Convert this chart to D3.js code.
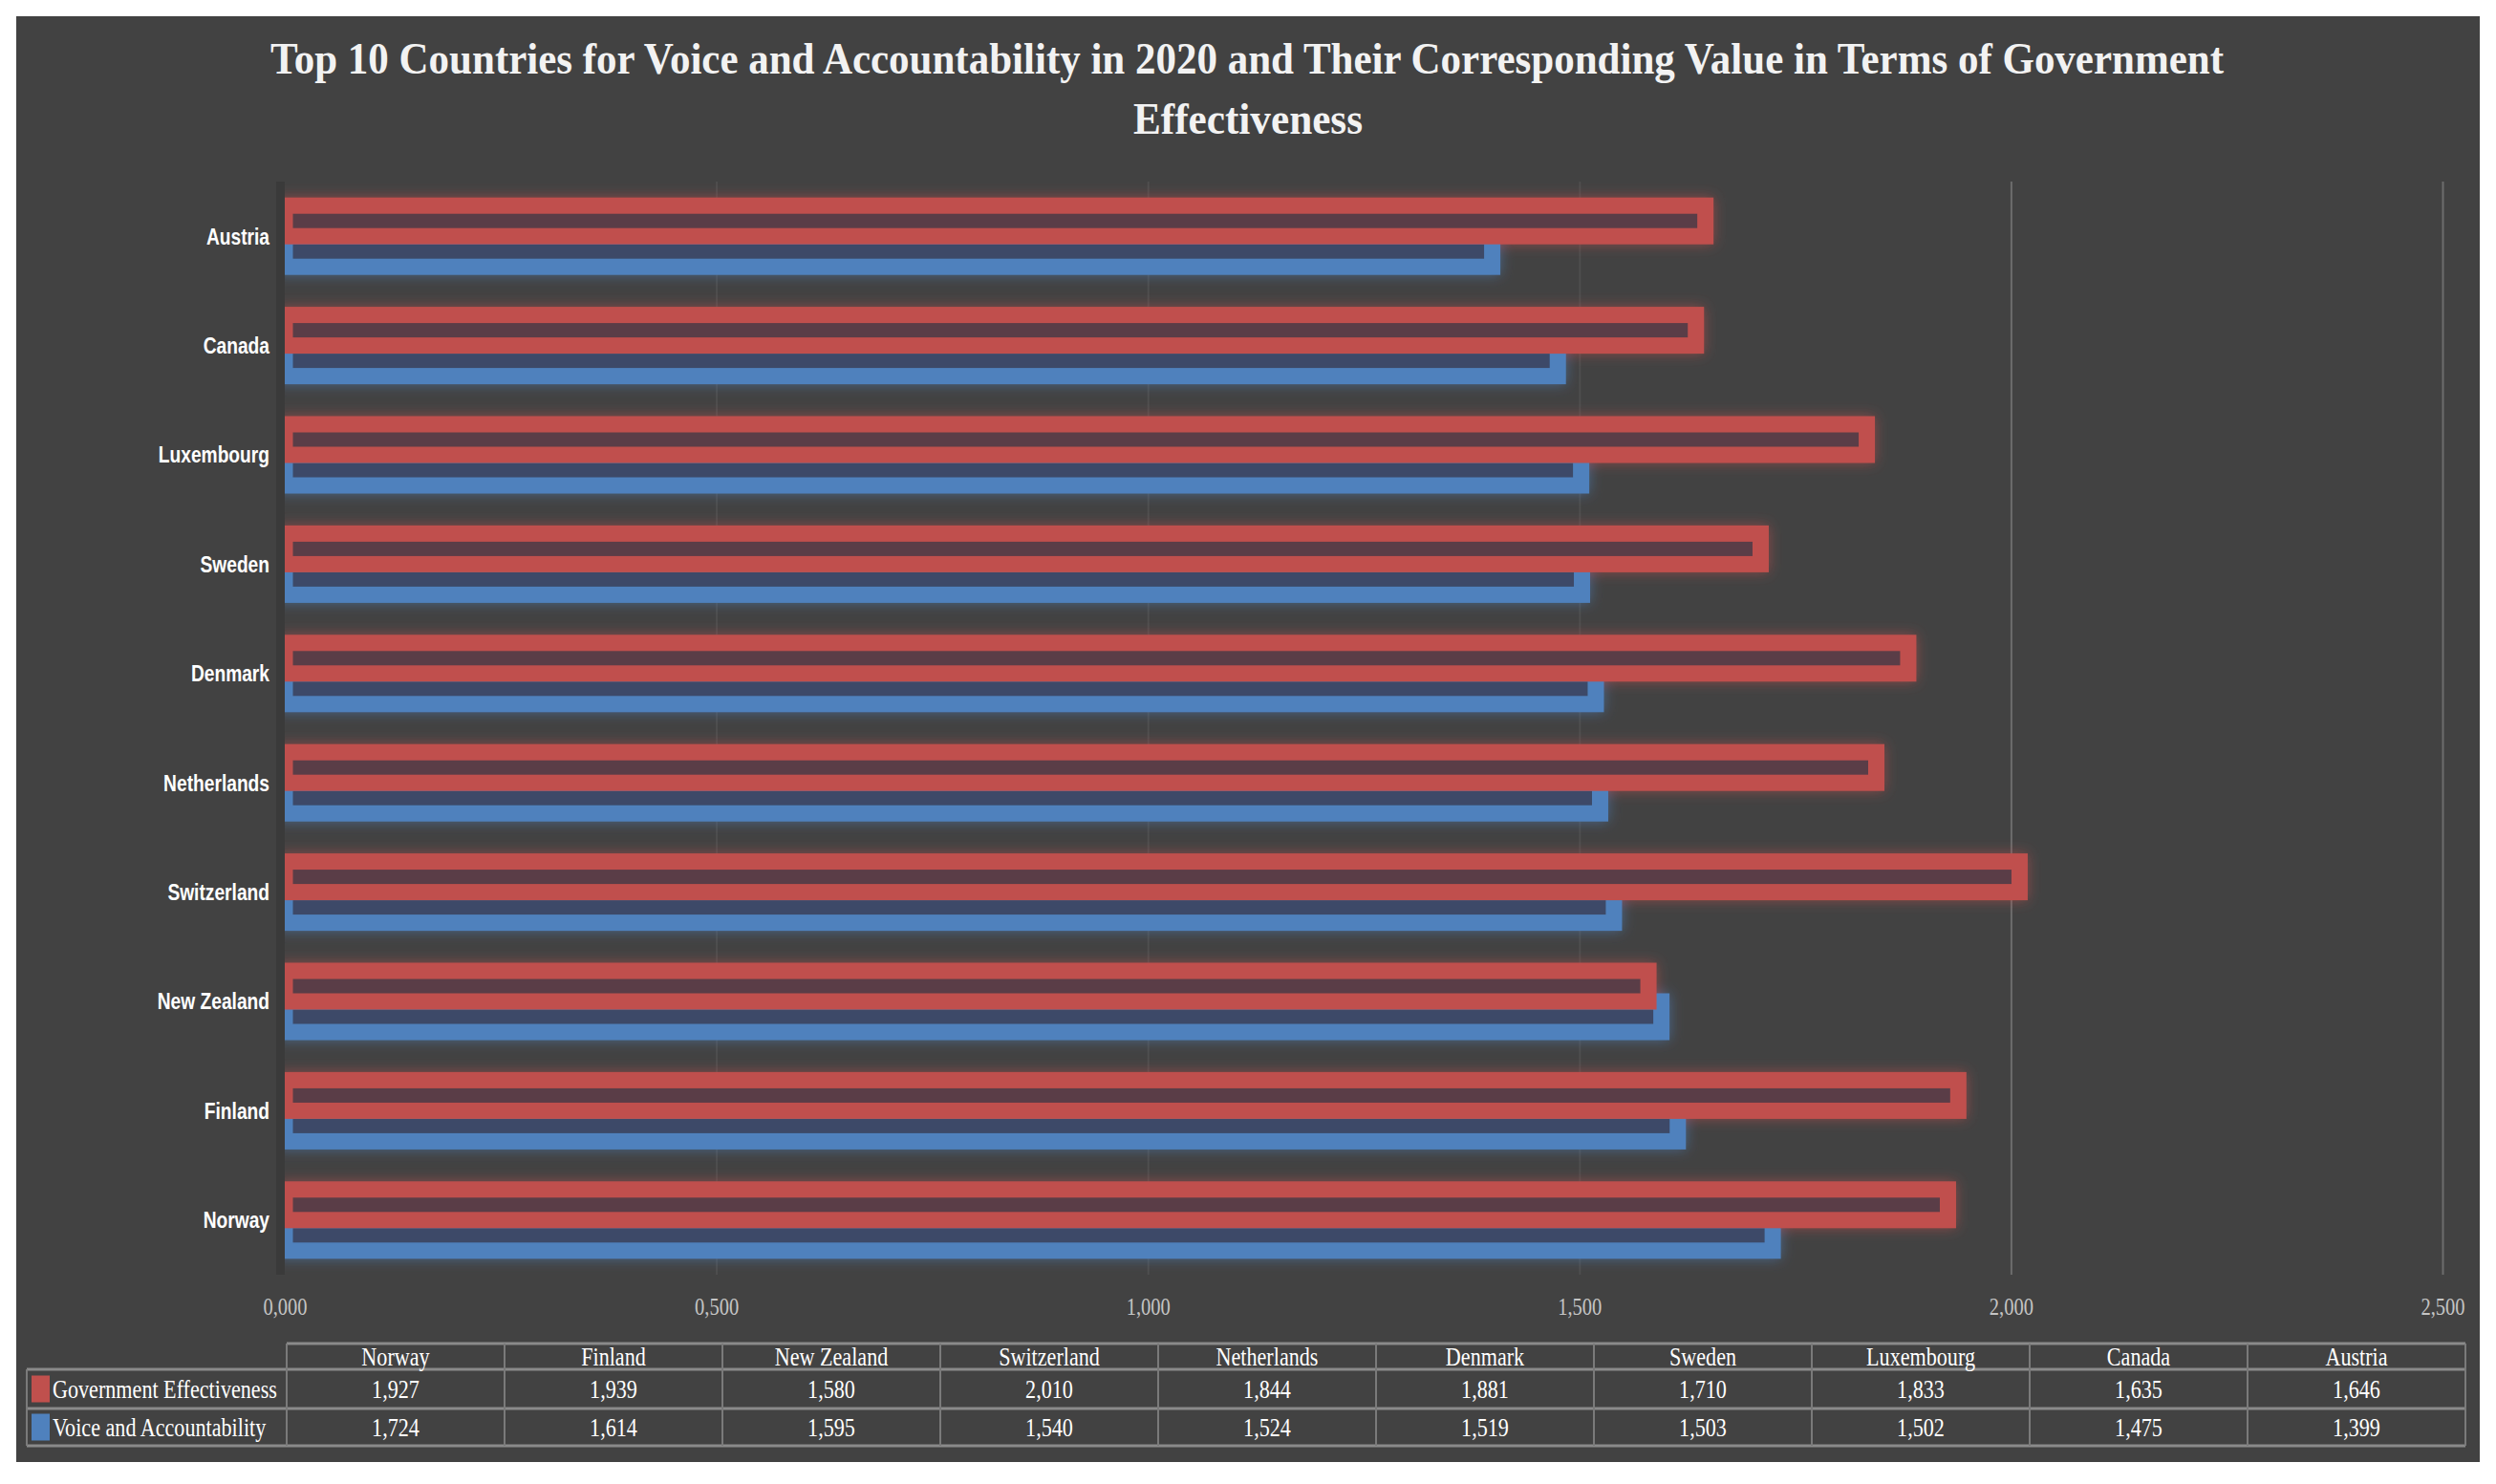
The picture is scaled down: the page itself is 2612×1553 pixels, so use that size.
<!DOCTYPE html>
<html>
<head>
<meta charset="utf-8">
<script src="https://cdn.jsdelivr.net/npm/d3@7"></script>
<style>
  html, body { margin: 0; padding: 0; background: #ffffff; }
  svg { display: block; }
</style>
</head>
<body>
<script>
// ---------- DATA ----------
const countries = ["Norway", "Finland", "New Zealand", "Switzerland", "Netherlands",
                   "Denmark", "Sweden", "Luxembourg", "Canada", "Austria"];
const govEffectiveness    = [1.927, 1.939, 1.580, 2.010, 1.844, 1.881, 1.710, 1.833, 1.635, 1.646];
const voiceAccountability = [1.724, 1.614, 1.595, 1.540, 1.524, 1.519, 1.503, 1.502, 1.475, 1.399];
const seriesNames = ["Government Effectiveness", "Voice and Accountability"];
const xTicks = [0, 0.5, 1, 1.5, 2, 2.5];
const titleLines = ["Top 10 Countries for Voice and Accountability in 2020 and Their Corresponding Value in Terms of Government",
                    "Effectiveness"];

// ---------- SETUP ----------
const W = 2612, H = 1553;
const svg = d3.select("body").append("svg").attr("width", W).attr("height", H);
const defs = svg.append("defs");

const f = defs.append("filter").attr("id", "glow")
  .attr("x", "-5%").attr("y", "-80%").attr("width", "110%").attr("height", "260%");
f.append("feGaussianBlur").attr("in", "SourceGraphic").attr("stdDeviation", 7).attr("result", "b");
f.append("feComponentTransfer").attr("in", "b").attr("result", "b2")
  .append("feFuncA").attr("type", "linear").attr("slope", 0.6);
const fm = f.append("feMerge");
fm.append("feMergeNode").attr("in", "b2");
fm.append("feMergeNode").attr("in", "SourceGraphic");

defs.append("clipPath").attr("id", "plotClip")
  .append("rect").attr("x", 298).attr("y", 150).attr("width", 2300).attr("height", 1220);

// background panel
svg.append("rect").attr("x", 17).attr("y", 17).attr("width", 2578).attr("height", 1513)
  .attr("fill", "#424242");

// ---------- TITLE ----------
const serif = "'Liberation Serif', 'Times New Roman', serif";
svg.append("text").attr("x", 1305).attr("y", 77)
  .attr("text-anchor", "middle").attr("font-family", serif).attr("font-weight", "bold")
  .attr("font-size", 46).attr("fill", "#f2f2f2")
  .attr("textLength", 2044).attr("lengthAdjust", "spacingAndGlyphs")
  .text(titleLines[0]);
svg.append("text").attr("x", 1306).attr("y", 140)
  .attr("text-anchor", "middle").attr("font-family", serif).attr("font-weight", "bold")
  .attr("font-size", 46).attr("fill", "#f2f2f2")
  .attr("textLength", 240).attr("lengthAdjust", "spacingAndGlyphs")
  .text(titleLines[1]);

// ---------- SCALES ----------
const x = d3.scaleLinear().domain([0, 2.5]).range([298, 2556]);
const y = d3.scaleBand().domain(countries.slice().reverse()).range([190, 1334]).padding(0);
const ySub = d3.scaleBand().domain(seriesNames).range([-32, 32]).padding(0);
const colors = { "Government Effectiveness": "#c0504d", "Voice and Accountability": "#4f81bd" };
const inner  = { "Government Effectiveness": "#5a3c46", "Voice and Accountability": "#3c4a68" };
const fmt = v => d3.format(".3f")(v).replace(".", ",");

const rows = countries.map((c, i) => ({
  country: c,
  values: { "Government Effectiveness": govEffectiveness[i], "Voice and Accountability": voiceAccountability[i] }
}));

// ---------- GRIDLINES ----------
const grid = svg.append("g").attr("transform", `translate(0,${y.range()[0]})`)
  .call(d3.axisBottom(x).tickValues(xTicks.slice(1)).tickSize(y.range()[1] - y.range()[0]).tickFormat(""));
grid.select(".domain").remove();
grid.selectAll(".tick line")
  .attr("stroke", d => d >= 2 ? "#6c6c6c" : "#4e4e4e")
  .attr("stroke-width", 2);

// dark axis strip
svg.append("rect").attr("x", 289).attr("y", y.range()[0]).attr("width", 9)
  .attr("height", y.range()[1] - y.range()[0]).attr("fill", "#3a3a3a");

// ---------- BARS ----------
const plot = svg.append("g").attr("clip-path", "url(#plotClip)").append("g").attr("filter", "url(#glow)");
// draw blue first, red on top
const drawOrder = ["Voice and Accountability", "Government Effectiveness"];
drawOrder.forEach(s => {
  plot.append("g").selectAll("rect").data(rows).join("rect")
    .attr("x", x(0))
    .attr("y", d => y(d.country) + y.bandwidth() / 2 + ySub(s))
    .attr("width", d => x(d.values[s]) - x(0))
    .attr("height", ySub.bandwidth())
    .attr("fill", inner[s])
    .attr("stroke", colors[s])
    .attr("stroke-width", 17);
});

// ---------- Y AXIS ----------
const yAxis = svg.append("g").attr("transform", `translate(${x(0)},0)`)
  .call(d3.axisLeft(y).tickSize(0));
yAxis.select(".domain").remove();
yAxis.selectAll(".tick text")
  .attr("font-family", "'Liberation Sans', Arial, sans-serif")
  .attr("font-weight", "bold").attr("font-size", 24).attr("fill", "#ffffff")
  .attr("x", -16 / 0.8).attr("dy", "0.35em")
  .attr("transform", "scale(0.8,1)");

// ---------- X AXIS ----------
const xAxis = svg.append("g").attr("transform", `translate(0,1367)`)
  .call(d3.axisBottom(x).tickValues(xTicks).tickSize(0).tickFormat(fmt));
xAxis.select(".domain").remove();
xAxis.selectAll(".tick text")
  .attr("font-family", serif).attr("font-size", 25).attr("fill", "#c4c4c4")
  .attr("y", 0).attr("dy", "0.35em")
  .attr("transform", "scale(0.82,1)");

// ---------- DATA TABLE ----------
const tx = d3.scaleBand().domain(countries).range([300, 2580]).padding(0);
const rowLines = [1406, 1433, 1474, 1513];
const rowCenters = [1419.5, 1453.5, 1493.5];
const tbl = svg.append("g");
const lineCol = "#8a8a8a";

// horizontal lines
tbl.append("line").attr("x1", 300).attr("x2", 2580).attr("y1", rowLines[0]).attr("y2", rowLines[0])
  .attr("stroke", lineCol).attr("stroke-width", 3);
rowLines.slice(1).forEach(yy => {
  tbl.append("line").attr("x1", 28).attr("x2", 2580).attr("y1", yy).attr("y2", yy)
    .attr("stroke", lineCol).attr("stroke-width", 3);
});
// vertical lines
const vxs = countries.map(c => tx(c)).concat([tx.range()[1]]);
vxs.forEach(vx => {
  tbl.append("line").attr("x1", vx).attr("x2", vx).attr("y1", rowLines[0]).attr("y2", rowLines[3])
    .attr("stroke", "#7a7a7a").attr("stroke-width", 2);
});
tbl.append("line").attr("x1", 28).attr("x2", 28).attr("y1", rowLines[1]).attr("y2", rowLines[3])
  .attr("stroke", "#7a7a7a").attr("stroke-width", 2);

function tText(g, xx, yy, str, anchor) {
  g.append("text")
    .attr("transform", `translate(${xx},${yy}) scale(0.82,1)`)
    .attr("text-anchor", anchor || "middle").attr("dy", "0.35em")
    .attr("font-family", serif).attr("font-size", 27).attr("fill", "#ffffff")
    .text(str);
}
// header
countries.forEach(c => tText(tbl, tx(c) + tx.bandwidth() / 2, rowCenters[0], c));
// legend keys + series rows
const seriesVals = [govEffectiveness, voiceAccountability];
seriesNames.forEach((s, si) => {
  const cy = rowCenters[si + 1];
  tbl.append("rect").attr("x", 33).attr("y", cy - 14).attr("width", 19).attr("height", 28)
    .attr("fill", colors[s]);
  tText(tbl, 55, cy, s, "start");
  countries.forEach((c, ci) => tText(tbl, tx(c) + tx.bandwidth() / 2, cy, fmt(seriesVals[si][ci])));
});
</script>
</body>
</html>
